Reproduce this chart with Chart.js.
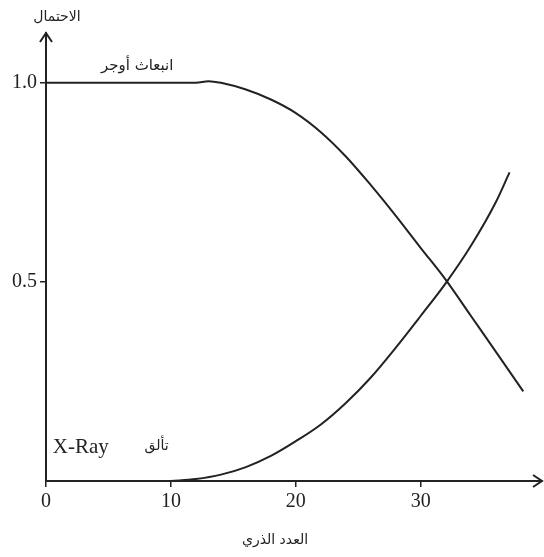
<!DOCTYPE html>
<html lang="ar">
<head>
<meta charset="utf-8">
<title>الاحتمال</title>
<script src="https://cdn.jsdelivr.net/npm/chart.js@4/dist/chart.umd.min.js"></script>
<style>
  html, body { margin: 0; padding: 0; background: #fff; }
  #wrap { width: 544px; height: 557px; position: relative; }
</style>
</head>
<body>
<div id="wrap"><canvas id="probChart"></canvas></div>
<script>
// Atomic number (Z) against probability
const augerZ = [0, 4, 8, 12, 13, 14, 16, 18, 20, 22, 24, 26, 28, 30, 32, 34, 36, 38.2];
const augerP = [1, 1, 1, 1, 1.004, 1.0, 0.983, 0.958, 0.924, 0.876, 0.815, 0.743, 0.666, 0.585, 0.505, 0.415, 0.325, 0.225];

const xrayZ = [10, 12, 14, 16, 18, 20, 22, 24, 26, 28, 30, 32, 34, 36, 37.1];
const xrayP = [0, 0.005, 0.016, 0.035, 0.063, 0.1, 0.142, 0.196, 0.26, 0.335, 0.415, 0.497, 0.59, 0.7, 0.775];

const xTicks = [0, 10, 20, 30];
const yTicks = [0.5, 1.0];

const yTitle = "الاحتمال";
const xTitle = "العدد الذري";
const augerLabel = "انبعاث أوجر";
const xrayLabel = "X-Ray";
const glowLabel = "تألق";

const ink = "#222";
const serif = "'Liberation Serif', 'Times New Roman', serif";
const arabic = "'DejaVu Sans', sans-serif";

function toPoints(xs, ys) {
    return xs.map((x, i) => ({ x: x, y: ys[i] }));
}

// arrow heads on both axes plus the free text labels
const decorPlugin = {
    id: "decor",
    afterDraw(chart) {
        const ctx = chart.ctx;
        const a = chart.chartArea;
        const xs = chart.scales.x;
        const ys = chart.scales.y;
        ctx.save();
        ctx.strokeStyle = ink;
        ctx.lineWidth = 2;
        ctx.beginPath();
        ctx.moveTo(a.left - 6, a.top + 9);
        ctx.lineTo(a.left, a.top);
        ctx.lineTo(a.left + 6, a.top + 9);
        ctx.moveTo(a.right - 9, a.bottom - 6);
        ctx.lineTo(a.right, a.bottom);
        ctx.lineTo(a.right - 9, a.bottom + 6);
        ctx.stroke();

        ctx.fillStyle = ink;
        ctx.textBaseline = "middle";
        ctx.textAlign = "center";
        ctx.font = "14px " + arabic;
        ctx.fillText(yTitle, a.left + 11, 17);
        ctx.fillText(xTitle, 275, 540);
        ctx.font = "15px " + arabic;
        ctx.fillText(augerLabel, xs.getPixelForValue(7.3), ys.getPixelForValue(1.043));
        ctx.font = "14px " + arabic;
        ctx.fillText(glowLabel, xs.getPixelForValue(8.85), ys.getPixelForValue(0.087));
        ctx.textAlign = "left";
        ctx.font = "21px " + serif;
        ctx.fillText(xrayLabel, xs.getPixelForValue(0.55), ys.getPixelForValue(0.085));
        ctx.restore();
    }
};

const lineStyle = {
    borderColor: ink,
    borderWidth: 2,
    pointRadius: 0,
    fill: false,
    cubicInterpolationMode: "monotone"
};

new Chart(document.getElementById("probChart"), {
    type: "line",
    data: {
        datasets: [
            Object.assign({ label: augerLabel, data: toPoints(augerZ, augerP) }, lineStyle),
            Object.assign({ label: xrayLabel, data: toPoints(xrayZ, xrayP) }, lineStyle)
        ]
    },
    options: {
        responsive: true,
        maintainAspectRatio: false,
        animation: false,
        layout: { padding: { top: 33, right: 2, left: 0, bottom: 0 } },
        plugins: {
            legend: { display: false },
            tooltip: { enabled: false }
        },
        scales: {
            x: {
                type: "linear",
                min: 0,
                max: 39.7,
                afterBuildTicks: s => { s.ticks = xTicks.map(v => ({ value: v })); },
                afterFit: s => { s.height = 76; },
                grid: { drawOnChartArea: false, drawTicks: true, tickLength: 6, color: ink, lineWidth: 1.5 },
                border: { display: true, color: ink, width: 2 },
                ticks: {
                    color: ink,
                    padding: 3,
                    maxRotation: 0,
                    font: { family: serif, size: 20 },
                    callback: v => String(v)
                }
            },
            y: {
                type: "linear",
                min: 0,
                max: 1.125,
                afterBuildTicks: s => { s.ticks = yTicks.map(v => ({ value: v })); },
                afterFit: s => { s.width = 46; },
                grid: { drawOnChartArea: false, drawTicks: true, tickLength: 6, color: ink, lineWidth: 1.5 },
                border: { display: true, color: ink, width: 2 },
                ticks: {
                    color: ink,
                    padding: 3,
                    font: { family: serif, size: 20 },
                    callback: v => v.toFixed(1)
                }
            }
        }
    },
    plugins: [decorPlugin]
});
</script>
</body>
</html>
